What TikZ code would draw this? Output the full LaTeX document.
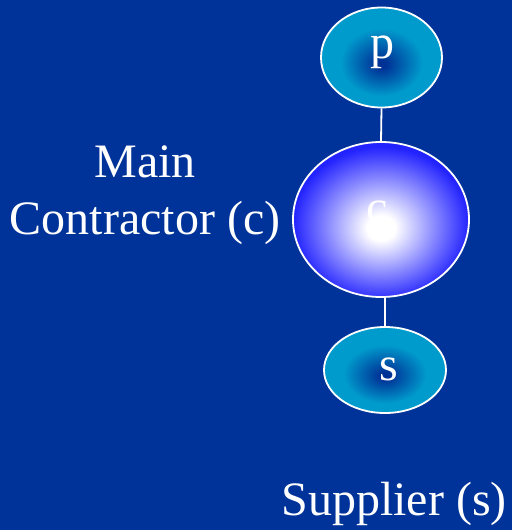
\documentclass[tikz,border=0pt]{standalone}
\usepackage{fontspec}
\setmainfont{Liberation Serif}
\usetikzlibrary{shapes.geometric,positioning}
\definecolor{slidebg}{RGB}{0,51,153}
\definecolor{ballcyan}{RGB}{0,155,205}
\definecolor{balldark}{RGB}{0,50,150}
\definecolor{coreblue}{RGB}{35,35,255}
\pgfdeclareradialshading{tealball}{\pgfpoint{0bp}{-3.5bp}}{color(0bp)=(balldark); color(2bp)=(balldark); color(17bp)=(ballcyan); color(50bp)=(ballcyan)}
\pgfdeclareradialshading{whiteball}{\pgfpoint{0bp}{-3bp}}{color(0bp)=(white); color(4bp)=(white); color(25bp)=(coreblue); color(50bp)=(coreblue)}
\tikzset{
  ball/.style={ellipse,draw=white,line width=1.8pt,inner sep=0pt},
  lettertext/.style={font=\fontsize{48}{57}\selectfont,text=white,inner sep=0pt},
  link/.style={draw=white,line width=1.8pt},
}

\begin{document}
\begin{tikzpicture}[x=1pt,y=-1pt]
\fill[slidebg] (0,0) rectangle (512,530);
\useasboundingbox (0,0) rectangle (512,530);
\node[ball,shading=tealball,minimum width=121pt,minimum height=100pt]
  (p) at (381.5,57.5) {};
\node[ball,shading=whiteball,minimum width=176pt,minimum height=155pt]
  (c) at (381,219.5) {};
\node[ball,shading=tealball,minimum width=122pt,minimum height=86pt]
  (s) at (385,370) {};
\draw[link] (p.south) -- (c.north);
\draw[link] (s.north |- c.south) -- (s.north);
\node[lettertext,anchor=base] (ptext) at (382,58) {p};
\node[lettertext,anchor=base] (ctext) at (377,223) {c};
\node[lettertext,anchor=base] (stext) at (389,380) {s};
\node[lettertext,align=center] (maintext) at (145,195.5) {Main\\Contractor (c)};
\node[lettertext,anchor=base] (suptext) at (394,515) {Supplier (s)};
\end{tikzpicture}
\end{document}
